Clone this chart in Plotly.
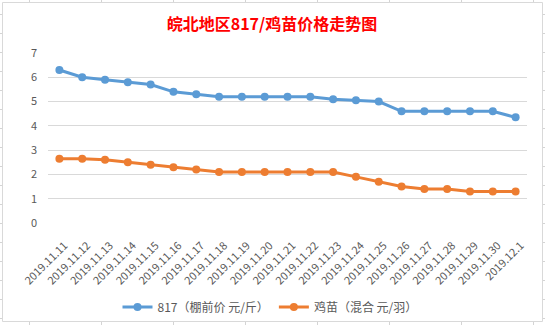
import plotly.graph_objects as go

dates = ["2019.11.11", "2019.11.12", "2019.11.13", "2019.11.14", "2019.11.15",
         "2019.11.16", "2019.11.17", "2019.11.18", "2019.11.19", "2019.11.20",
         "2019.11.21", "2019.11.22", "2019.11.23", "2019.11.24", "2019.11.25",
         "2019.11.26", "2019.11.27", "2019.11.28", "2019.11.29", "2019.11.30",
         "2019.12.1"]
price_817 = [6.3, 6.0, 5.9, 5.8, 5.7, 5.4, 5.3, 5.2, 5.2, 5.2, 5.2, 5.2, 5.1,
             5.05, 5.0, 4.6, 4.6, 4.6, 4.6, 4.6, 4.35]
price_chick = [2.65, 2.65, 2.6, 2.5, 2.4, 2.3, 2.2, 2.1, 2.1, 2.1, 2.1, 2.1, 2.1,
               1.9, 1.7, 1.5, 1.4, 1.4, 1.3, 1.3, 1.3]
name_817 = "817（棚前价 元/斤）"
name_chick = "鸡苗（混合 元/羽）"
title_text = "皖北地区817/鸡苗价格走势图"

W_PX, H_PX = 545, 325
L, R, T, B = 48, 18, 53, 102
PW, PH = W_PX - L - R, H_PX - T - B


def px2x(px):
    return (px - L) / PW


def px2y(py):
    return (H_PX - py - B) / PH


FONT = "Noto Sans CJK SC, Microsoft YaHei, sans-serif"

fig = go.Figure()
fig.add_trace(go.Scatter(
    x=dates, y=price_817, name=name_817, mode="lines+markers",
    line=dict(color="#5B9BD5", width=3),
    marker=dict(color="#5B9BD5", size=8),
))
fig.add_trace(go.Scatter(
    x=dates, y=price_chick, name=name_chick, mode="lines+markers",
    line=dict(color="#ED7D31", width=3),
    marker=dict(color="#ED7D31", size=8),
))

shapes = []
grid_c = "#d4d4d4"
# Excel sheet gridlines visible outside the chart box
for cx in [29.5, 101.5, 173.5, 245.5, 317.5, 389.5, 461.5, 533.5]:
    shapes.append(dict(type="line", xref="paper", yref="paper",
                       x0=px2x(cx), x1=px2x(cx), y0=px2y(0), y1=px2y(2.5),
                       line=dict(color=grid_c, width=1), layer="below"))
    shapes.append(dict(type="line", xref="paper", yref="paper",
                       x0=px2x(cx), x1=px2x(cx), y0=px2y(321.5), y1=px2y(325),
                       line=dict(color=grid_c, width=1), layer="below"))
for k in range(17):
    ry = 14.5 + 19 * k
    shapes.append(dict(type="line", xref="paper", yref="paper",
                       x0=px2x(0), x1=px2x(2.5), y0=px2y(ry), y1=px2y(ry),
                       line=dict(color=grid_c, width=1), layer="below"))
    shapes.append(dict(type="line", xref="paper", yref="paper",
                       x0=px2x(542.5), x1=px2x(545), y0=px2y(ry), y1=px2y(ry),
                       line=dict(color=grid_c, width=1), layer="below"))
# chart box border
shapes.append(dict(type="rect", xref="paper", yref="paper",
                   x0=px2x(2.5), x1=px2x(542.5), y0=px2y(321.5), y1=px2y(2.5),
                   line=dict(color="#d9d9d9", width=1), fillcolor="rgba(0,0,0,0)",
                   layer="below"))

fig.update_layout(
    width=W_PX, height=H_PX,
    margin=dict(l=L, r=R, t=T, b=B, pad=0, autoexpand=False),
    paper_bgcolor="white",
    plot_bgcolor="rgba(0,0,0,0)",
    title=dict(text=title_text, x=272 / W_PX, xanchor="center",
               y=1 - 24 / H_PX, yanchor="middle",
               font=dict(family=FONT, size=16, color="#FF0000", weight="bold")),
    xaxis=dict(type="category", range=[-0.5, len(dates) - 0.5],
               tickangle=-45, showgrid=False, zeroline=False, showline=False,
               ticks="", automargin=False, ticklabelstandoff=13,
               ticklabelshift=5,
               tickfont=dict(family=FONT, size=11, color="#595959")),
    yaxis=dict(range=[0, 7], dtick=1, showgrid=True, gridcolor="#d9d9d9",
               gridwidth=1, zeroline=False, showline=False, ticks="",
               ticklabelstandoff=10, automargin=False,
               tickfont=dict(family=FONT, size=11, color="#595959")),
    legend=dict(orientation="h", x=270 / W_PX, xanchor="center", xref="container",
                y=1 - 307 / H_PX, yanchor="middle", yref="container",
                font=dict(family=FONT, size=12, color="#595959"),
                bgcolor="rgba(0,0,0,0)"),
    showlegend=True,
    shapes=shapes,
)

fig.write_html("out.html")
